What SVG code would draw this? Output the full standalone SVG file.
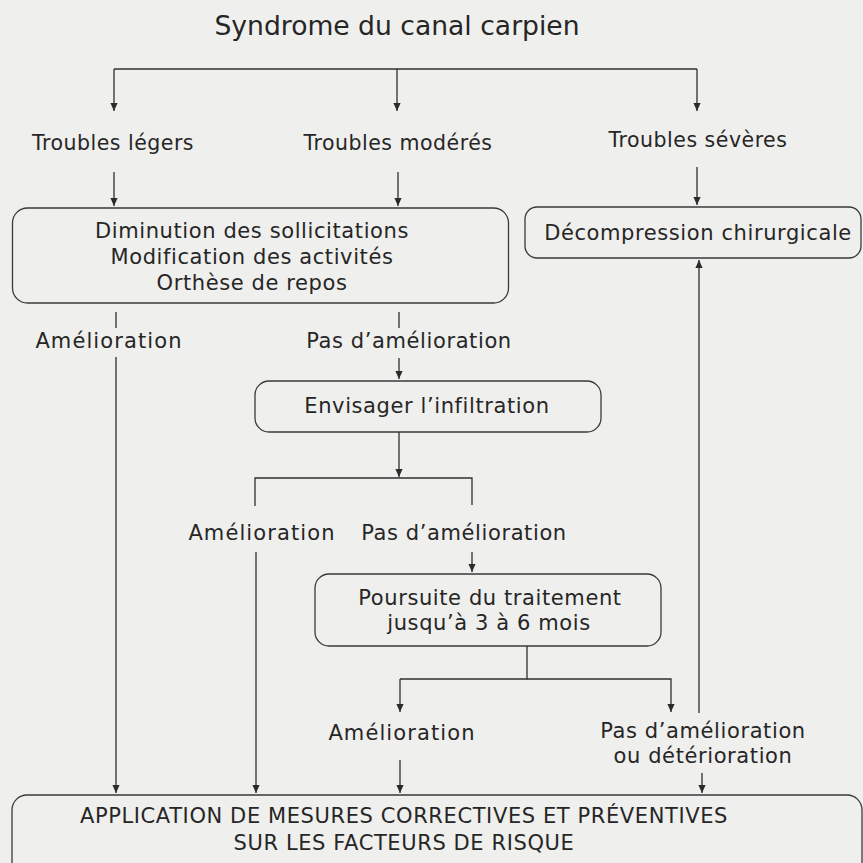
<svg xmlns="http://www.w3.org/2000/svg" width="863" height="863" viewBox="0 0 863 863">
<defs>
<marker id="ah" viewBox="0 0 10 10" refX="10" refY="5" markerWidth="8" markerHeight="8" markerUnits="userSpaceOnUse" orient="auto">
<path d="M0,0.5 L10,5 L0,9.5 z" fill="#2b2b2b"/>
</marker>
<style>
text{font-family:"DejaVu Sans","Noto Sans","Liberation Sans",sans-serif;fill:#262626;font-size:21px;letter-spacing:0.6px;text-anchor:middle}
.t{font-size:26.6px;letter-spacing:0}
.tr{font-size:20.5px;letter-spacing:0.5px}
.am{letter-spacing:1.1px}
.box{fill:none;stroke:#3a3a3a;stroke-width:1.3}
.c path{fill:none;stroke:#2f2f2f;stroke-width:1.3}
.a{marker-end:url(#ah)}
</style>
</defs>
<rect width="863" height="863" fill="#efefed"/>
<g id="title"><text class="t" x="397" y="35">Syndrome du canal carpien</text></g>
<g id="leger"><text class="tr" x="113" y="150">Troubles légers</text></g>
<g id="modere"><text class="tr" x="398" y="150">Troubles modérés</text></g>
<g id="severe"><text class="tr" x="698" y="147">Troubles sévères</text></g>
<g id="box1"><rect class="box" x="12.5" y="208" width="496" height="95" rx="15"/>
<text x="252" y="238">Diminution des sollicitations</text>
<text x="252" y="264">Modification des activités</text>
<text x="252" y="290">Orthèse de repos</text></g>
<g id="decomp"><rect class="box" x="525" y="207" width="336" height="51" rx="12"/>
<text x="698" y="240">Décompression chirurgicale</text></g>
<g id="amel1"><text class="am" x="109" y="348">Amélioration</text></g>
<g id="pas1"><text x="409" y="348">Pas d’amélioration</text></g>
<g id="envisager"><rect class="box" x="255" y="381" width="346" height="51" rx="14"/>
<text x="427" y="413">Envisager l’infiltration</text></g>
<g id="amel2"><text class="am" x="262" y="540">Amélioration</text></g>
<g id="pas2"><text x="464" y="540">Pas d’amélioration</text></g>
<g id="poursuite"><rect class="box" x="315" y="574" width="346" height="72" rx="14"/>
<text x="490" y="605">Poursuite du traitement</text>
<text x="489" y="630">jusqu’à 3 à 6 mois</text></g>
<g id="amel3"><text class="am" x="402" y="740">Amélioration</text></g>
<g id="pas3"><text x="703" y="738">Pas d’amélioration</text>
<text x="703" y="763">ou détérioration</text></g>
<g id="application"><rect class="box" x="12" y="795" width="850" height="100" rx="15"/>
<text x="404" y="823">APPLICATION DE MESURES CORRECTIVES ET PRÉVENTIVES</text>
<text x="404" y="850">SUR LES FACTEURS DE RISQUE</text></g>
<g class="c" id="connectors">
<path d="M114,69 H697"/>
<path class="a" d="M114,69 V111"/>
<path class="a" d="M397,69 V111"/>
<path class="a" d="M697,69 V111"/>
<path class="a" d="M114,172 V206"/>
<path class="a" d="M398,172 V206"/>
<path class="a" d="M697,167 V205"/>
<path d="M116,312 V328"/>
<path d="M399,312 V328"/>
<path class="a" d="M116,357 V793"/>
<path class="a" d="M399,358 V379"/>
<path class="a" d="M399,432 V477"/>
<path d="M255,506 V478 H472 V505"/>
<path class="a" d="M256,552 V793"/>
<path class="a" d="M472,552 V572"/>
<path d="M527,646 V679 H400"/>
<path class="a" d="M400,679 V712"/>
<path class="a" d="M527,679 H671 V712"/>
<path class="a" d="M699,713 V260"/>
<path class="a" d="M400,760 V793"/>
<path class="a" d="M702,773 V793"/>
</g>
</svg>
